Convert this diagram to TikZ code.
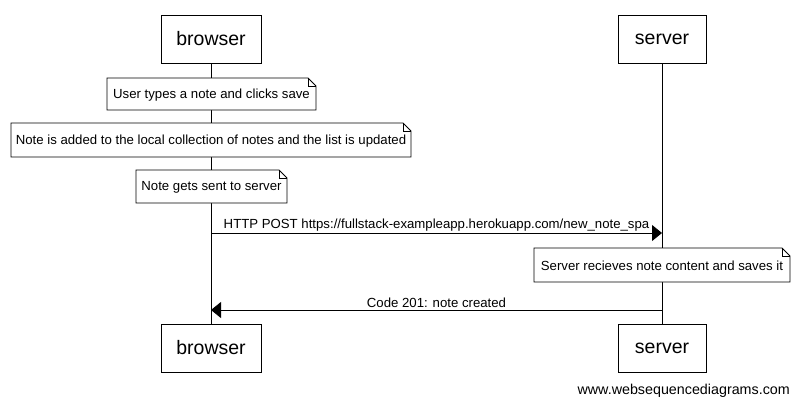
\documentclass[tikz,border=0pt]{standalone}
\usepackage{fontspec}
\setmainfont{Liberation Sans}
\usetikzlibrary{arrows.meta,shapes.misc}
\begin{document}
\begin{tikzpicture}[x=1pt,y=-1pt,
  actor/.style={draw,line width=0.8pt,minimum width=100pt,minimum height=48pt,font=\fontsize{19.5}{22}\selectfont,inner sep=0pt},
  notebox/.style={inner sep=0pt,font=\fontsize{13.2}{15}\selectfont},
  msg/.style={line width=0.8pt,-{Triangle[length=10pt,width=16pt]}},
  life/.style={line width=0.8pt}]
\useasboundingbox (0,0) rectangle (798,407);
\fill[white] (0,0) rectangle (798,407);
% actors
\node[actor] (bt) at (211,39) {browser};
\node[actor,minimum width=88pt] (st) at (662,39) {server};
\node[actor] (bb) at (211,348) {browser};
\node[actor,minimum width=88pt] (sb) at (662,348) {server};
\draw[life] (bt.south) -- (bb.north);
\draw[life] (st.south) -- (sb.north);
% notes
\newcommand{\fnote}[6]{% name, x1,y1,x2,y2,text
  \filldraw[fill=white,line width=0.8pt] (#2,#3) -- (#4-8,#3) -- (#4,#3+8) -- (#4,#5) -- (#2,#5) -- cycle;
  \draw[line width=0.8pt] (#4-8,#3) -- (#4-8,#3+8) -- (#4,#3+8);
  \node[notebox] (#1) at ({(#2+#4)/2},{(#3+#5)/2+1}) {#6};}
\fnote{n1}{107}{78}{316}{110}{User types a note and clicks save}
\fnote{n2}{11}{123}{411}{157}{Note is added to the local collection of notes and the list is updated}
\fnote{n3}{136}{170}{287}{203}{Note gets sent to server}
\fnote{n4}{534}{248}{790}{282}{Server recieves note content and saves it}
% messages
\coordinate (a1) at (211,233);
\coordinate (b1) at (662,233);
\draw[msg] (a1) -- node[above=1pt,notebox] {HTTP POST https://fullstack-exampleapp.herokuapp.com/new\_note\_spa} (b1);
\coordinate (a2) at (662,310);
\coordinate (b2) at (211,310);
\draw[msg] (a2) -- node[above=2pt,notebox] {Code 201: note created} (b2);
\node[notebox,font=\fontsize{14.3}{16}\selectfont,anchor=east] (wm) at (790,391) {www.websequencediagrams.com};
\end{tikzpicture}
\end{document}
